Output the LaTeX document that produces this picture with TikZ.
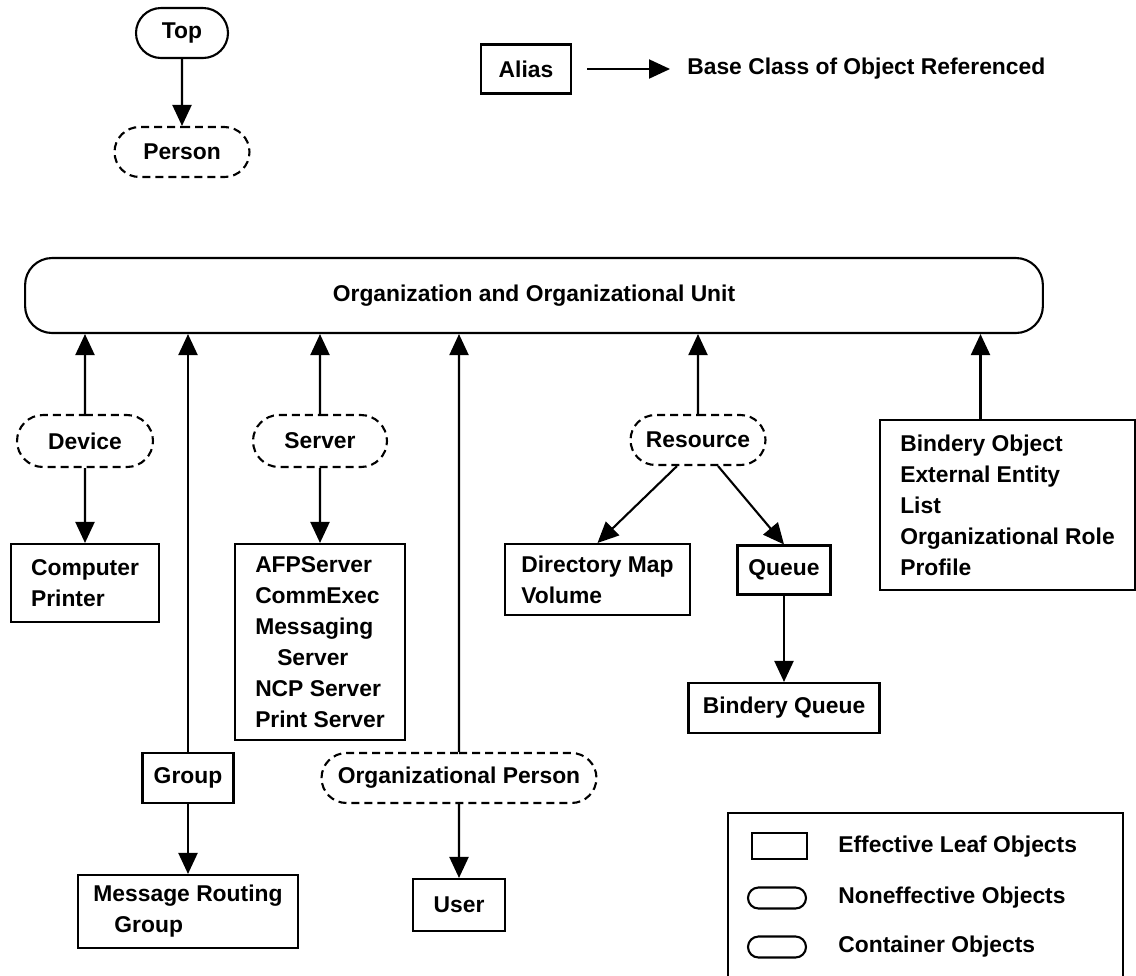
\documentclass[tikz,border=0pt]{standalone}
\usepackage{fontspec}
\setmainfont{Liberation Sans}
\usetikzlibrary{arrows.meta,shapes.misc}
\tikzset{
  every node/.style={font=\bfseries\fontsize{13}{17.6}\selectfont, inner sep=0pt},
  leaf/.style={draw, line width=1.2pt, rectangle},
  leaflist/.style={leaf, align=left},
  cont/.style={draw, line width=1.2pt, rounded rectangle},
  noneff/.style={cont, dash pattern=on 0.16cm off 0.1cm},
  isa/.style={line width=1.2pt, -{Triangle[length=0.42cm,width=0.38cm]}},
}
\begin{document}
\begin{tikzpicture}[x=0.02cm,y=-0.02cm]
  \useasboundingbox (0,0) rectangle (1136,975);

  % top part
  \node[cont, minimum width=1.84cm, minimum height=1cm] (top) at (182,33) {Top};
  \node[noneff, minimum width=2.7cm, minimum height=1cm] (person) at (182,152) {Person};
  \draw[isa] (top) -- (person);

  \node[leaf, minimum width=1.8cm, minimum height=0.98cm] (alias) at (526,69) {Alias};
  \node[anchor=west] (basecls) at (687,69) {Base Class of Object Referenced};
  \draw[isa, shorten <=0.3cm, shorten >=0.34cm] (alias) -- (basecls);

  \node[draw, line width=1.2pt, rounded corners=0.54cm, minimum width=20.36cm, minimum height=1.5cm] (org) at (534,295.5) {Organization and Organizational Unit};

  % second row
  \node[noneff, minimum width=2.72cm, minimum height=1.04cm] (device) at (85,441) {Device};
  \node[noneff, minimum width=2.68cm, minimum height=1.04cm] (server) at (320,441) {Server};
  \node[noneff, minimum width=2.7cm, minimum height=1cm] (resource) at (698,440) {Resource};
  \node[leaflist, minimum width=5.1cm, minimum height=3.4cm] (others) at (1007.5,505)
    {Bindery Object\\External Entity\\List\\Organizational Role\\Profile};

  \draw[isa] (device) -- (device |- org.south);
  \draw[isa] (server) -- (server |- org.south);
  \draw[isa] (resource) -- (resource |- org.south);
  \draw[isa] ([xshift=-0.54cm]others.north) -- ([xshift=-0.54cm]others.north |- org.south);

  % leaves
  \node[leaflist, minimum width=2.96cm, minimum height=1.56cm] (computer) at (85,583)
    {Computer\\Printer};
  \node[leaflist, minimum width=3.4cm, minimum height=3.92cm] (servers) at (320,642)
    {AFPServer\\CommExec\\Messaging\\\hspace*{0.44cm}Server\\NCP Server\\Print Server};
  \node[leaflist, minimum width=3.7cm, minimum height=1.42cm] (dirmap) at (597.5,579.5)
    {Directory Map\\Volume};
  \node[leaf, minimum width=1.86cm, minimum height=0.98cm] (queue) at (784,570) {Queue};
  \node[leaf, minimum width=3.82cm, minimum height=1cm] (bindq) at (784,708) {Bindery Queue};

  \draw[isa] (device) -- (computer);
  \draw[isa] (server) -- (servers);
  \draw[isa] ([xshift=-0.42cm]resource.south) -- (dirmap.north);
  \draw[isa] ([xshift=0.4cm]resource.south) -- (queue.north);
  \draw[isa] (queue) -- (bindq);

  % group and person
  \node[leaf, minimum width=1.82cm, minimum height=1cm] (group) at (188,778) {Group};
  \node[leaflist, minimum width=4.4cm, minimum height=1.46cm] (mrg) at (188,911.5)
    {Message Routing\\\hspace*{0.42cm}Group};
  \node[noneff, minimum width=5.5cm, minimum height=1cm] (orgperson) at (459,778) {Organizational Person};
  \node[leaf, minimum width=1.84cm, minimum height=1.04cm] (user) at (459,905) {User};

  \draw[isa] (group) -- (group |- org.south);
  \draw[isa] (group) -- (mrg);
  \draw[isa] (orgperson) -- (orgperson |- org.south);
  \draw[isa] (orgperson) -- (user);

  % legend
  \draw[line width=1.2pt] (728,813) rectangle (1123,1010);
  \node[leaf, minimum width=1.1cm, minimum height=0.52cm] (keyleaf) at (779.5,846) {};
  \node[cont, minimum width=1.16cm, minimum height=0.42cm] (keynoneff) at (777,898) {};
  \node[cont, minimum width=1.16cm, minimum height=0.42cm] (keycont) at (777,947) {};
  \node[anchor=west] (lblleaf) at (838,847) {Effective Leaf Objects};
  \node[anchor=west] (lblnoneff) at (838,898) {Noneffective Objects};
  \node[anchor=west] (lblcont) at (838,947) {Container Objects};
\end{tikzpicture}
\end{document}
